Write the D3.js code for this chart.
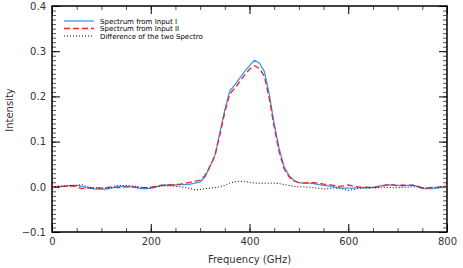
<!DOCTYPE html>
<html>
<head>
	<meta charset="utf-8">
	<title>Spectrum comparison</title>
	<script src="https://d3js.org/d3.v7.min.js"></script>
	<style>
		body { margin: 0; background: white; }
		text { font-family: "DejaVu Sans", sans-serif; }
	</style>
</head>
<body>
	<svg id="chart" width="463" height="268"></svg>
	<script type="text/javascript">

		// frequency grid (GHz)
		var freq = d3.range(0, 801, 10);

		var spec1 = [
			0.000, 0.001, 0.001, 0.002, 0.003, 0.003, 0.001, -0.002, -0.004, -0.005,
			-0.005, -0.005, -0.003, 0.000, 0.001, 0.001, 0.000, -0.002, -0.004, -0.004,
			-0.003, 0.000, 0.003, 0.004, 0.004, 0.004, 0.005, 0.005, 0.006, 0.008,
			0.011, 0.022, 0.045, 0.070, 0.120, 0.170, 0.212, 0.225, 0.240, 0.255,
			0.268, 0.280, 0.274, 0.255, 0.205, 0.140, 0.085, 0.045, 0.025, 0.014,
			0.009, 0.008, 0.008, 0.007, 0.005, 0.003, 0.002, 0.000, -0.002, -0.003,
			-0.003, -0.003, -0.002, -0.002, -0.002, -0.001, 0.001, 0.003, 0.004, 0.004,
			0.003, 0.002, 0.003, 0.004, 0.001, -0.004, -0.004, -0.004, -0.003, -0.001,
			0.000
		];

		var spec2 = [
			0.000, 0.000, 0.001, 0.001, 0.002, 0.000, -0.004, -0.003, -0.002, -0.002,
			-0.003, -0.002, 0.000, -0.002, -0.002, 0.000, 0.000, -0.001, -0.002, -0.002,
			-0.001, 0.001, 0.003, 0.004, 0.004, 0.005, 0.006, 0.008, 0.010, 0.012,
			0.015, 0.025, 0.046, 0.068, 0.115, 0.165, 0.205, 0.218, 0.232, 0.247,
			0.260, 0.268, 0.262, 0.245, 0.195, 0.132, 0.078, 0.040, 0.022, 0.013,
			0.009, 0.008, 0.009, 0.009, 0.008, 0.006, 0.005, 0.003, 0.001, 0.002,
			0.004, 0.002, 0.000, -0.001, -0.001, -0.003, 0.000, 0.002, 0.005, 0.005,
			0.002, 0.004, 0.003, 0.003, 0.002, -0.003, -0.003, -0.002, -0.002, 0.001,
			0.002
		];

		var specDiff = [
			0.000, 0.001, 0.001, 0.002, 0.002, 0.003, 0.005, 0.001, -0.003, -0.003,
			-0.003, -0.003, -0.002, 0.003, 0.003, 0.003, 0.002, 0.001, -0.001, -0.002,
			-0.003, -0.001, 0.001, 0.002, 0.002, 0.001, 0.000, -0.002, -0.004, -0.007,
			-0.006, -0.004, -0.003, -0.002, 0.000, 0.003, 0.008, 0.011, 0.012, 0.012,
			0.010, 0.008, 0.008, 0.008, 0.008, 0.008, 0.007, 0.005, 0.003, 0.001,
			0.000, 0.000, -0.001, -0.002, -0.003, -0.005, -0.004, -0.003, -0.003, -0.005,
			-0.008, -0.006, -0.004, -0.003, -0.003, -0.002, -0.002, -0.001, -0.001, -0.002,
			-0.002, -0.001, -0.001, 0.000, 0.000, -0.002, -0.002, -0.001, 0.000, 0.000,
			0.000
		];

		var xMajor = [0, 200, 400, 600, 800];
		var yMajor = [-0.1, 0.0, 0.1, 0.2, 0.3, 0.4];
		var legendLabels = ["Spectrum from Input I", "Spectrum from Input II", "Difference of the two Spectro"];

		var series = [
			{ values: spec1, color: "#3399ff", dash: null, width: 1.3 },
			{ values: spec2, color: "#ff2020", dash: "6,3", width: 1.3 },
			{ values: specDiff, color: "#000000", dash: "1,2", width: 1 }
		];

		var svg = d3.select("#chart");
		var pLeft = 52, pRight = 447, pTop = 6, pBottom = 232;

		var x = d3.scaleLinear().domain([0, 800]).range([pLeft, pRight]);
		var y = d3.scaleLinear().domain([-0.1, 0.4]).range([pBottom, pTop]);

		var fmt = d3.format(".1f");
		var xMinor = d3.range(0, 801, 50);
		var yMinor = d3.range(-100, 401, 10).map(function (d) { return d / 1000; });

		function styleAxis(g, col) {
			g.select(".domain").remove();
			g.selectAll(".tick line").attr("stroke", col).attr("stroke-width", 1);
			g.selectAll(".tick text").attr("fill", "#333").attr("font-size", "10px");
		}

		// minor ticks first
		svg.append("g").attr("transform", "translate(" + pLeft + ",0)")
			.call(d3.axisLeft(y).tickValues(yMinor).tickSize(-4).tickFormat(""))
			.call(styleAxis, "#555");
		svg.append("g").attr("transform", "translate(" + pRight + ",0)")
			.call(d3.axisRight(y).tickValues(yMinor).tickSize(-4).tickFormat(""))
			.call(styleAxis, "#555");
		svg.append("g").attr("transform", "translate(0," + pBottom + ")")
			.call(d3.axisBottom(x).tickValues(xMinor).tickSize(-4).tickFormat(""))
			.call(styleAxis, "#555");
		svg.append("g").attr("transform", "translate(0," + pTop + ")")
			.call(d3.axisTop(x).tickValues(xMinor).tickSize(-4).tickFormat(""))
			.call(styleAxis, "#555");

		// major ticks
		svg.append("g").attr("transform", "translate(" + pLeft + ",0)")
			.call(d3.axisLeft(y).tickValues(yMajor).tickSize(-8).tickPadding(6).tickFormat(fmt))
			.call(styleAxis, "#000");
		svg.append("g").attr("transform", "translate(" + pRight + ",0)")
			.call(d3.axisRight(y).tickValues(yMajor).tickSize(-8).tickFormat(""))
			.call(styleAxis, "#000");
		svg.append("g").attr("transform", "translate(0," + pBottom + ")")
			.call(d3.axisBottom(x).tickValues(xMajor).tickSize(-8).tickPadding(6).tickFormat(d3.format("d")))
			.call(styleAxis, "#000");
		svg.append("g").attr("transform", "translate(0," + pTop + ")")
			.call(d3.axisTop(x).tickValues(xMajor).tickSize(-8).tickFormat(""))
			.call(styleAxis, "#000");

		// frame
		svg.append("rect")
			.attr("x", pLeft).attr("y", pTop)
			.attr("width", pRight - pLeft).attr("height", pBottom - pTop)
			.attr("fill", "none").attr("stroke", "#000").attr("stroke-width", 1.5);

		// lines
		var line = d3.line()
			.x(function (d, i) { return x(freq[i]); })
			.y(function (d) { return y(d); });

		svg.append("g").selectAll("path.series")
			.data(series)
			.enter()
			.append("path")
			.attr("class", "series")
			.attr("d", function (s) { return line(s.values); })
			.attr("fill", "none")
			.attr("stroke", function (s) { return s.color; })
			.attr("stroke-width", function (s) { return s.width; })
			.attr("stroke-dasharray", function (s) { return s.dash; });

		// legend
		var legend = svg.append("g").selectAll("g")
			.data(series)
			.enter()
			.append("g")
			.attr("transform", function (d, i) { return "translate(64," + (21 + i * 7.5) + ")"; });

		legend.append("line")
			.attr("x1", 0).attr("x2", 30)
			.attr("stroke", function (s) { return s.color; })
			.attr("stroke-width", function (s) { return s.width; })
			.attr("stroke-dasharray", function (s) { return s.dash; });

		legend.append("text")
			.attr("x", 36).attr("y", 2.5)
			.attr("font-size", "7px")
			.attr("fill", "#000")
			.text(function (d, i) { return legendLabels[i]; });

		// axis titles
		svg.append("text")
			.attr("x", (pLeft + pRight) / 2).attr("y", 263)
			.attr("text-anchor", "middle")
			.attr("font-size", "10px")
			.attr("fill", "#333")
			.text("Frequency (GHz)");

		svg.append("text")
			.attr("transform", "translate(13," + 110 + ") rotate(-90)")
			.attr("text-anchor", "middle")
			.attr("font-size", "10px")
			.attr("fill", "#333")
			.text("Intensity");
	</script>
</body>
</html>
